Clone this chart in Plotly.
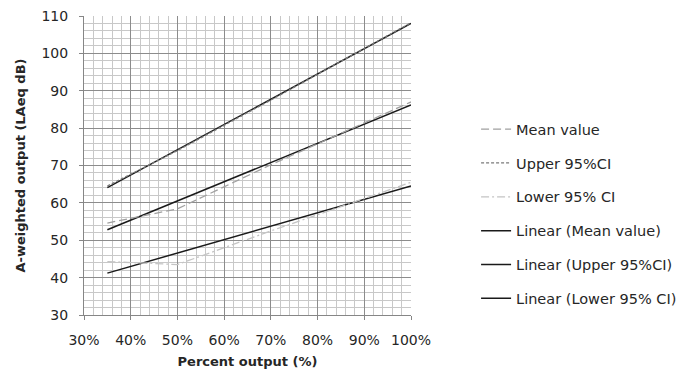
import plotly.graph_objects as go

# Data
percent_output = [35, 50, 70, 100]
mean_value = [54.6, 58.4, 70.2, 87.0]
upper_ci = [64.5, 74.0, 87.5, 108.2]
lower_ci = [44.3, 43.5, 52.5, 65.5]

trend_x = [35, 100]
mean_trend = [52.8, 86.2]
upper_trend = [64.1, 108.0]
lower_trend = [41.2, 64.5]

x_ticks = [30, 40, 50, 60, 70, 80, 90, 100]
x_tick_labels = ["30%", "40%", "50%", "60%", "70%", "80%", "90%", "100%"]
y_ticks = [30, 40, 50, 60, 70, 80, 90, 100, 110]

FONT = "DejaVu Sans"

fig = go.Figure()

# trendlines (drawn first, below the data series)
for i, (name, yv) in enumerate([
    ("Linear (Mean value)", mean_trend),
    ("Linear (Upper 95%CI)", upper_trend),
    ("Linear (Lower 95% CI)", lower_trend),
]):
    fig.add_trace(go.Scatter(
        x=trend_x, y=yv, mode="lines", name=name,
        line=dict(color="#1a1a1a", width=1.5),
        legendrank=4 + i, legendgroup=name,
    ))

for i, (name, yv, col, dash) in enumerate([
    ("Mean value", mean_value, "#a0a0a0", "8px,4px"),
    ("Upper 95%CI", upper_ci, "#7a7a7a", "3px,2px"),
    ("Lower 95% CI", lower_ci, "#c4c4c4", "8px,3px,2px,3px"),
]):
    fig.add_trace(go.Scatter(
        x=percent_output, y=yv, mode="lines", name=name,
        line=dict(color=col, width=1.3, dash=dash),
        legendrank=1 + i, legendgroup=name,
    ))

fig.update_layout(
    width=692, height=376,
    margin=dict(l=76, r=289, t=8, b=69, autoexpand=False),
    paper_bgcolor="white", plot_bgcolor="white",
    font=dict(family=FONT, size=14, color="#262626"),
    showlegend=True,
    legend=dict(
        x=1.199, xanchor="left", y=0.675, yanchor="top",
        font=dict(family=FONT, size=14.5, color="#262626"),
        tracegroupgap=12, bgcolor="rgba(0,0,0,0)",
    ),
    xaxis=dict(
        range=[30, 100], tickvals=x_ticks, ticktext=x_tick_labels,
        showgrid=True, gridcolor="#8c8c8c", gridwidth=1,
        minor=dict(dtick=2, showgrid=True, gridcolor="#c8c8c8", gridwidth=1),
        showline=True, linecolor="#868686", linewidth=1,
        ticks="outside", ticklen=4, tickcolor="#868686",
        ticklabelstandoff=8, zeroline=False, automargin=False,
        ticklabeloverflow="allow",
        title=dict(text="<b>Percent output (%)</b>", font=dict(size=13), standoff=10),
    ),
    yaxis=dict(
        range=[30, 110], tickvals=y_ticks,
        showgrid=True, gridcolor="#8c8c8c", gridwidth=1,
        minor=dict(dtick=2, showgrid=True, gridcolor="#c8c8c8", gridwidth=1),
        showline=True, linecolor="#868686", linewidth=1,
        ticks="outside", ticklen=4, tickcolor="#868686",
        ticklabelstandoff=8, zeroline=False, automargin=False,
        ticklabeloverflow="allow",
        title=dict(text="<b>A-weighted output (LAeq dB)</b>", font=dict(size=13), standoff=12),
    ),
)

fig.write_html("out.html")
